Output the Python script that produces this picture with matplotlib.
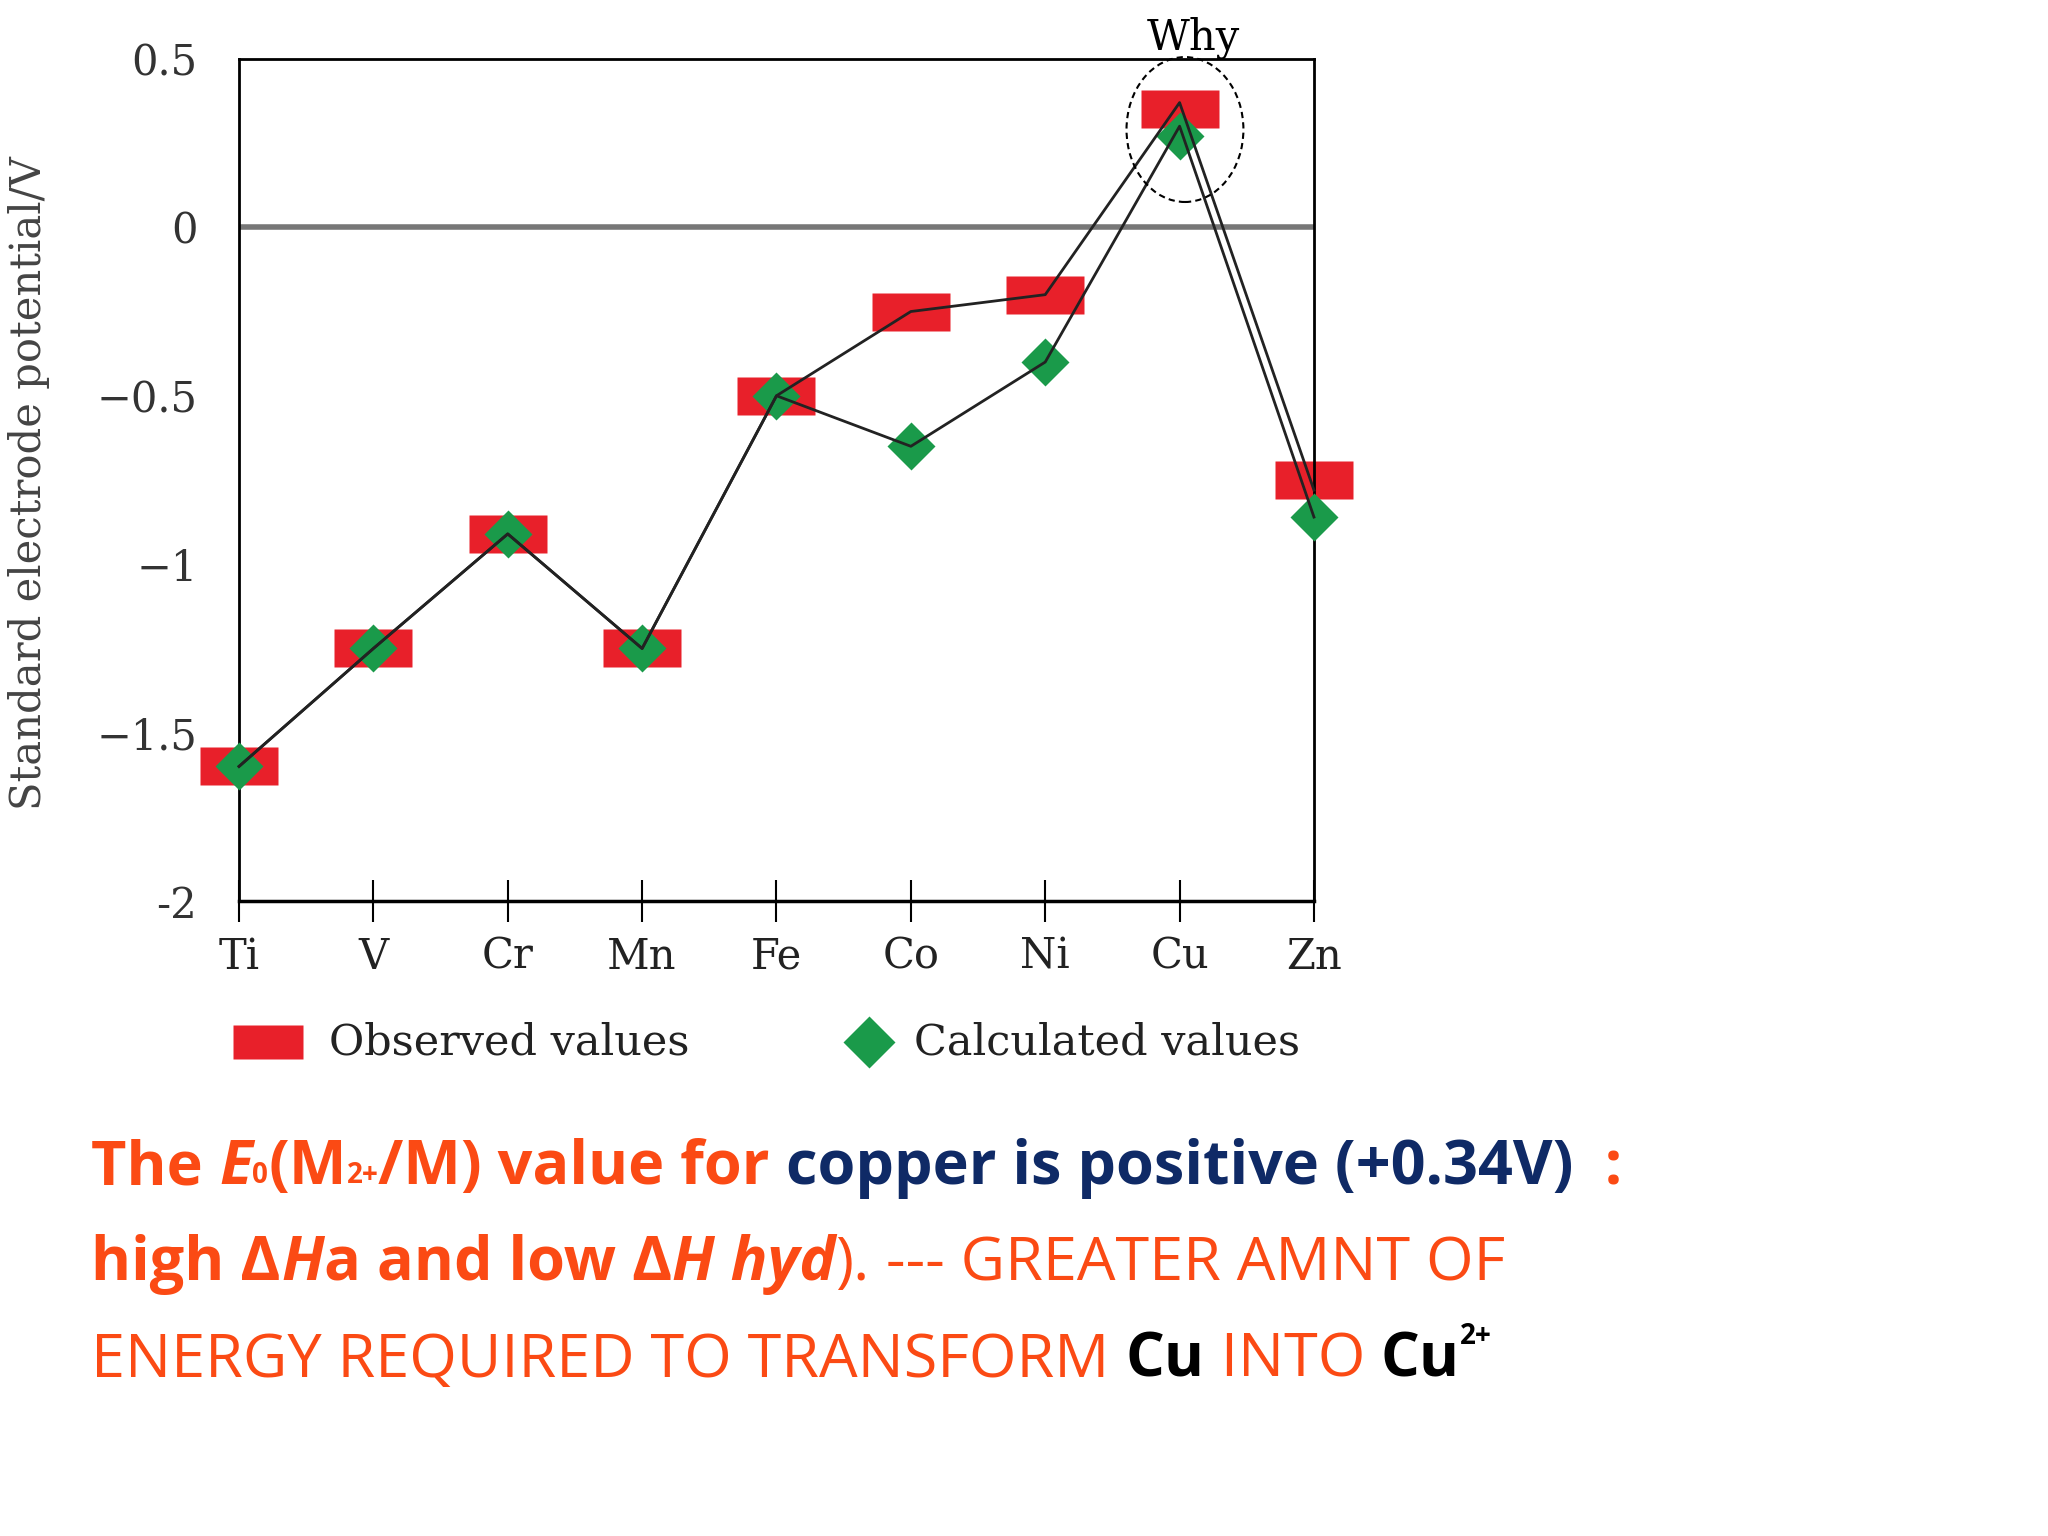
import matplotlib
matplotlib.use("Agg")
import matplotlib.pyplot as plt
from matplotlib.patches import Ellipse
from matplotlib.lines import Line2D

elements = ["Ti", "V", "Cr", "Mn", "Fe", "Co", "Ni", "Cu", "Zn"]
observed = [-1.6, -1.25, -0.91, -1.25, -0.5, -0.25, -0.2, 0.35, -0.75]
calculated = [-1.6, -1.25, -0.91, -1.25, -0.5, -0.65, -0.4, 0.27, -0.86]
line_obs = [-1.6, -1.25, -0.91, -1.25, -0.5, -0.25, -0.2, 0.37, -0.78]
line_calc = [-1.6, -1.25, -0.91, -1.25, -0.5, -0.65, -0.4, 0.30, -0.86]
yticks = [0.5, 0, -0.5, -1, -1.5, -2]
yticklabels = ["0.5", "0", "\u22120.5", "\u22121", "\u22121.5", "-2"]

W, H = 1568, 1176
fig = plt.figure(figsize=(20.48, 15.36), dpi=100)
ax = fig.add_axes([183/W, 1-690/H, (1006-183)/W, (690-45)/H])
x = list(range(len(elements)))
rect = [(-1.05, -0.5), (1.05, -0.5), (1.05, 0.5), (-1.05, 0.5), (-1.05, -0.5)]
ax.axhline(0, color="#777777", lw=4, zorder=1)
ax.plot(x, observed, ls="none", marker=rect, ms=56, color="#e8202a", mec="none", zorder=2, clip_on=False)
ax.plot(x, calculated, ls="none", marker="D", ms=24, color="#1a9a4a", mec="none", zorder=3, clip_on=False)
ax.plot(x, line_obs, color="#222222", lw=2, zorder=4, clip_on=False)
ax.plot(x, line_calc, color="#222222", lw=2, zorder=4, clip_on=False)
ax.add_patch(Ellipse((7.04, 0.29), 0.87, 0.43, fill=False, ls=(0, (3, 2)), lw=1.5, color="black", zorder=5, clip_on=False))
ax.text(7.1, 0.5, "Why", fontsize=30, family="DejaVu Serif", ha="center", va="bottom", clip_on=False)
ax.set_xlim(0, 8)
ax.set_ylim(-2, 0.5)
ax.set_xticks(x)
ax.set_xticklabels(elements, fontsize=30, family="DejaVu Serif", color="#222222")
ax.set_yticks(yticks)
ax.set_yticklabels(yticklabels, fontsize=30, family="DejaVu Serif", color="#333333")
ax.tick_params(axis="x", direction="inout", length=30, width=1.5, pad=10)
ax.tick_params(axis="y", length=0, pad=30)
for s in ax.spines.values():
    s.set_linewidth(2)
ax.spines["bottom"].set_linewidth(2.5)
fig.text(22/W, 1-370/H, "Standard electrode potential/V", rotation=90, fontsize=30,
         family="DejaVu Serif", color="#444444", ha="center", va="center")

# legend
fig.add_artist(Line2D([205/W], [1-798/H], marker=rect, ms=50, color="#e8202a", mec="none", ls="none"))
fig.text(252/W, 1-798/H, "Observed values", fontsize=31, family="DejaVu Serif", va="center", color="#222222")
fig.add_artist(Line2D([665/W], [1-798/H], marker="D", ms=26, color="#1a9a4a", mec="none", ls="none"))
fig.text(700/W, 1-798/H, "Calculated values", fontsize=31, family="DejaVu Serif", va="center", color="#222222")

# bottom text with mixed colours
R, B, K = "#fb4a14", "#0f2a66", "#000000"
lines = [
    (895, [("The ", R, "bold", "normal", 0), ("E", R, "bold", "italic", 0), ("0", R, "bold", "normal", -1),
           ("(M", R, "bold", "normal", 0), ("2+", R, "bold", "normal", -1), ("/M) value for ", R, "bold", "normal", 0),
           ("copper is positive (+0.34V)", B, "bold", "normal", 0), ("  :", R, "bold", "normal", 0)]),
    (968, [("high \u0394", R, "bold", "normal", 0), ("H", R, "bold", "italic", 0), ("a and low \u0394", R, "bold", "normal", 0),
           ("H hyd", R, "bold", "italic", 0), (").", R, "normal", "normal", 0), (" --- GREATER AMNT OF", R, "normal", "normal", 0)]),
    (1042, [("ENERGY REQUIRED TO TRANSFORM ", R, "normal", "normal", 0), ("Cu", K, "bold", "normal", 0),
            (" INTO ", R, "normal", "normal", 0), ("Cu", K, "bold", "normal", 0), ("2+", K, "bold", "normal", 1)]),
]
fig.canvas.draw()
rend = fig.canvas.get_renderer()
for ypix, parts in lines:
    xpos = 70 / W
    for txt, col, wt, st, sub in parts:
        fs = 44 if sub == 0 else 20
        dy = 0 if sub == 0 else (-0.004 if sub < 0 else 0.016)
        t = fig.text(xpos, 1 - ypix/H + dy, txt, fontsize=fs, color=col, weight=wt, style=st,
                     family="Open Sans", va="center")
        bb = t.get_window_extent(rend)
        xpos += bb.width / fig.bbox.width

fig.savefig("out.png", dpi=100, facecolor="white")
